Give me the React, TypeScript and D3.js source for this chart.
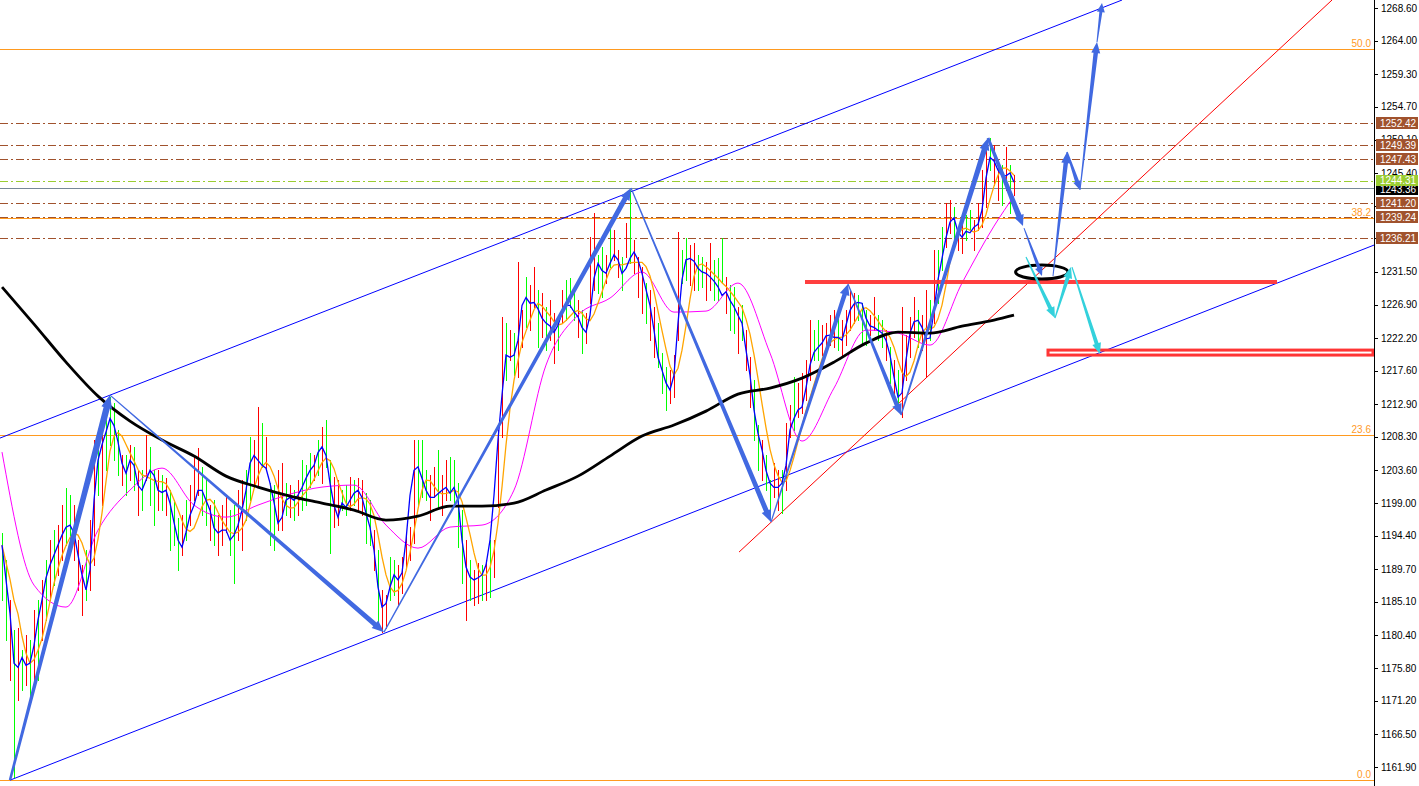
import React from "react";
import * as d3 from "d3";

const W = 1419;
const H = 786;
const AXIS_X = 1374;

// ---- bar data (one bar per slot) ----
const highs = [
  1194.8, 1191.0, 1185.4, 1181.1, 1181.4, 1178.3, 1180.4, 1179.7, 1184.0, 1185.4,
  1188.2, 1191.0, 1193.8, 1195.2, 1195.9, 1198.7, 1201.1, 1200.1, 1198.7, 1193.8,
  1190.3, 1192.4, 1196.6, 1207.9, 1207.9, 1209.3, 1210.7, 1213.9, 1213.1, 1209.3,
  1205.7, 1205.7, 1207.2, 1206.9, 1203.6, 1203.6, 1208.6, 1206.9, 1203.6, 1203.6,
  1202.9, 1202.5, 1200.8, 1199.4, 1196.9, 1197.3, 1199.4, 1201.5, 1205.7, 1206.7,
  1204.1, 1202.2, 1198.7, 1199.4, 1197.3, 1198.7, 1200.1, 1198.0, 1198.7, 1200.8,
  1202.2, 1203.6, 1208.3, 1207.9, 1212.5, 1210.2, 1208.3, 1201.8, 1201.5, 1203.6,
  1204.6, 1201.8, 1201.5, 1200.8, 1202.2, 1205.0, 1204.3, 1206.0, 1205.7, 1207.9,
  1209.7, 1210.7, 1205.0, 1202.7, 1202.2, 1200.8, 1201.5, 1202.7, 1202.2, 1202.5,
  1202.2, 1200.4, 1199.4, 1195.2, 1192.4, 1186.8, 1186.1, 1191.4, 1191.0, 1190.3,
  1191.4, 1194.5, 1195.6, 1207.9, 1207.9, 1207.9, 1203.6, 1202.9, 1204.1, 1206.5,
  1202.9, 1205.0, 1205.5, 1205.0, 1201.8, 1198.0, 1193.8, 1191.0, 1189.6, 1190.6,
  1190.3, 1191.0, 1193.8, 1193.8, 1209.3, 1225.1, 1224.3, 1223.3, 1222.9, 1232.9,
  1226.1, 1230.8, 1229.6, 1232.2, 1228.9, 1228.5, 1226.6, 1227.5, 1225.7, 1224.7,
  1228.9, 1230.4, 1230.6, 1228.9, 1227.5, 1226.1, 1225.7, 1236.4, 1239.8, 1233.9,
  1235.0, 1233.9, 1237.8, 1237.4, 1234.6, 1233.6, 1238.4, 1243.0, 1236.0, 1233.6,
  1232.2, 1229.9, 1228.9, 1226.6, 1224.3, 1220.1, 1218.1, 1217.7, 1219.8, 1237.1,
  1234.6, 1236.3, 1235.3, 1235.6, 1233.9, 1233.6, 1232.9, 1235.6, 1233.2, 1233.4,
  1236.3, 1230.8, 1229.6, 1229.4, 1226.6, 1226.8, 1223.3, 1219.5, 1216.3, 1210.0,
  1207.9, 1205.7, 1202.2, 1204.6, 1203.6, 1203.6, 1210.2, 1212.8, 1216.7, 1215.9,
  1217.3, 1219.1, 1224.7, 1223.3, 1224.7, 1224.0, 1224.3, 1225.4, 1226.1, 1225.4,
  1224.7, 1226.1, 1228.9, 1228.5, 1228.2, 1227.1, 1226.1, 1225.4, 1228.0, 1225.4,
  1224.7, 1223.3, 1220.9, 1219.1, 1217.7, 1226.6, 1222.6, 1225.1, 1228.0, 1226.1,
  1225.4, 1228.9, 1227.5, 1234.6, 1234.6, 1237.8, 1241.2, 1241.6, 1240.6, 1237.4,
  1238.4, 1239.5, 1240.2, 1238.8, 1241.2, 1245.8, 1248.6, 1250.3, 1249.3, 1247.2,
  1246.5, 1249.1, 1246.5, 1245.1,
];

const lows = [
  1185.4, 1179.7, 1174.1, 1160.5, 1171.3, 1172.7, 1173.4, 1171.3, 1172.7, 1174.1,
  1179.7, 1182.5, 1185.4, 1187.5, 1188.9, 1191.0, 1193.1, 1193.8, 1191.0, 1186.8,
  1183.2, 1185.4, 1186.8, 1190.3, 1200.1, 1198.7, 1203.6, 1207.2, 1205.0, 1202.9,
  1201.5, 1200.1, 1202.2, 1200.8, 1197.3, 1198.0, 1202.2, 1198.7, 1195.9, 1198.0,
  1198.0, 1197.3, 1192.4, 1193.1, 1189.6, 1191.7, 1193.8, 1195.9, 1199.4, 1200.1,
  1197.3, 1195.9, 1193.8, 1193.1, 1191.7, 1193.1, 1194.9, 1191.7, 1187.8, 1193.8,
  1192.4, 1196.6, 1199.4, 1201.5, 1201.3, 1204.1, 1203.6, 1193.1, 1192.4, 1195.2,
  1195.2, 1197.3, 1197.0, 1196.6, 1197.3, 1198.0, 1198.7, 1201.3, 1202.2, 1202.9,
  1201.8, 1204.1, 1192.0, 1195.6, 1195.9, 1198.0, 1197.3, 1198.0, 1198.7, 1197.7,
  1197.3, 1193.4, 1193.1, 1189.6, 1182.1, 1180.9, 1181.4, 1185.4, 1186.1, 1184.7,
  1186.3, 1190.0, 1191.0, 1193.4, 1198.4, 1199.8, 1199.4, 1196.6, 1199.8, 1198.4,
  1197.3, 1199.4, 1199.4, 1198.7, 1192.8, 1187.8, 1182.5, 1185.4, 1184.7, 1184.9,
  1185.4, 1185.4, 1185.8, 1188.6, 1198.4, 1208.3, 1216.3, 1219.1, 1217.0, 1216.7,
  1220.9, 1223.7, 1223.3, 1226.6, 1220.9, 1222.3, 1220.5, 1221.9, 1218.7, 1220.5,
  1224.3, 1224.7, 1226.6, 1224.7, 1222.3, 1220.1, 1221.5, 1227.1, 1228.9, 1228.5,
  1228.0, 1229.9, 1232.2, 1233.2, 1230.8, 1228.9, 1233.6, 1232.7, 1231.3, 1228.0,
  1225.7, 1224.3, 1221.9, 1219.5, 1218.1, 1214.5, 1212.1, 1213.1, 1213.9, 1221.9,
  1229.9, 1230.4, 1229.6, 1228.9, 1228.9, 1229.4, 1227.5, 1228.9, 1227.5, 1227.5,
  1229.9, 1225.7, 1223.3, 1222.9, 1220.1, 1221.9, 1217.7, 1212.5, 1207.9, 1203.6,
  1202.2, 1200.8, 1196.6, 1199.8, 1198.0, 1197.6, 1200.8, 1208.3, 1209.3, 1211.1,
  1211.7, 1213.5, 1216.3, 1219.1, 1219.1, 1219.8, 1220.9, 1221.2, 1220.9, 1220.5,
  1219.5, 1221.2, 1223.3, 1224.3, 1224.7, 1221.5, 1221.2, 1222.6, 1223.3, 1221.9,
  1220.9, 1219.1, 1215.9, 1213.5, 1212.1, 1211.1, 1216.3, 1219.5, 1222.3, 1220.9,
  1220.5, 1216.7, 1221.9, 1224.3, 1227.1, 1231.8, 1235.0, 1237.0, 1235.3, 1234.6,
  1234.2, 1236.0, 1237.4, 1234.6, 1237.4, 1237.8, 1240.6, 1245.8, 1243.7, 1241.6,
  1240.9, 1243.0, 1239.8, 1242.3,
];

// g = up bar, r = down bar
const barColors =
  "ggrgrgrgrg" + "rgrgrrggrr" + "rgrrgrgggg" + "rgrgrgrggr" + "grgggrgrrr" +
  "ggrgrrrggr" + "rggrrgrggr" + "rgrgrgggrg" + "rggrrggrgr" + "rggrgrrggr" +
  "rrrrgggrrg" + "rrggggrgrr" + "grgrrrgrgr" + "rgrrgrgrrg" + "rgggrgrrrg" +
  "grgrrgrgrr" + "rgrrgggrrr" + "ggrrggrrgg" + "grggrgrrgg" + "rggrrgrrgr" +
  "rrrggrrrrg" + "rrrrgggrrg" + "grgrgrrrrg" + "rrgrggrrgr" + "rggrrrrgrr" +
  "grgr";

// fast moving average (blue)
const fastMA = [
  1193.1, 1188.2, 1183.5, 1176.5, 1175.9, 1177.3, 1176.2, 1176.5, 1179.0, 1182.6,
  1185.4, 1188.5, 1190.3, 1191.7, 1193.1, 1194.5, 1195.6, 1195.9, 1194.8, 1191.7,
  1188.9, 1186.8, 1189.6, 1199.4, 1205.0, 1207.2, 1209.0, 1210.9, 1209.9, 1207.6,
  1204.6, 1203.2, 1205.0, 1204.3, 1201.5, 1200.8, 1202.2, 1203.6, 1202.9, 1200.8,
  1200.5, 1200.8, 1199.0, 1196.3, 1193.8, 1192.8, 1194.9, 1197.3, 1198.7, 1200.8,
  1200.8, 1199.4, 1198.0, 1195.5, 1194.8, 1195.2, 1195.2, 1193.8, 1194.5, 1195.9,
  1198.0, 1200.8, 1204.6, 1205.7, 1205.0, 1204.3, 1203.9, 1201.8, 1199.1, 1196.2,
  1197.0, 1199.4, 1199.8, 1199.4, 1200.1, 1201.2, 1202.5, 1203.6, 1204.3, 1206.1,
  1206.9, 1205.7, 1201.8, 1198.7, 1197.0, 1199.0, 1198.4, 1199.4, 1200.4, 1200.8,
  1199.8, 1197.6, 1195.6, 1192.4, 1187.2, 1184.4, 1184.9, 1187.2, 1188.9, 1188.2,
  1189.2, 1193.8, 1200.1, 1203.6, 1204.1, 1202.5, 1200.8, 1199.8, 1199.8, 1200.3,
  1200.8, 1201.2, 1200.4, 1201.2, 1199.4, 1193.8, 1190.0, 1188.6, 1188.2, 1188.5,
  1188.9, 1190.3, 1193.8, 1200.1, 1207.9, 1214.2, 1219.8, 1219.5, 1219.8, 1221.9,
  1226.8, 1227.9, 1227.1, 1227.2, 1226.3, 1225.0, 1224.3, 1223.9, 1223.0, 1224.0,
  1225.7, 1226.8, 1226.8, 1225.9, 1225.2, 1223.7, 1223.0, 1225.4, 1230.6, 1232.7,
  1231.7, 1231.3, 1232.7, 1233.9, 1233.2, 1231.3, 1232.0, 1233.4, 1234.3, 1233.2,
  1231.3, 1229.0, 1226.8, 1223.3, 1219.5, 1217.7, 1215.9, 1214.9, 1217.0, 1224.3,
  1230.4, 1233.2, 1233.4, 1233.0, 1232.0, 1231.5, 1231.3, 1230.8, 1230.2, 1229.4,
  1228.2, 1228.7, 1227.5, 1226.6, 1225.4, 1224.3, 1220.5, 1217.0, 1212.1, 1208.8,
  1206.5, 1203.6, 1201.8, 1201.2, 1201.2, 1201.8, 1204.3, 1209.3, 1210.9, 1212.1,
  1212.5, 1215.2, 1218.4, 1220.2, 1220.9, 1221.5, 1222.5, 1222.6, 1222.3, 1222.3,
  1221.9, 1224.0, 1226.1, 1227.0, 1227.2, 1227.1, 1225.0, 1223.9, 1223.7, 1223.3,
  1222.9, 1221.9, 1219.8, 1216.7, 1213.9, 1214.5, 1219.1, 1222.9, 1224.5, 1224.7,
  1223.7, 1222.1, 1222.2, 1226.1, 1230.4, 1233.4, 1236.3, 1238.5, 1239.1, 1237.1,
  1236.4, 1237.2, 1237.0, 1237.8, 1238.2, 1240.2, 1244.7, 1247.6, 1247.1, 1245.8,
  1245.1, 1245.0, 1245.4, 1244.1,
];

// slow MAs sampled every 8 bars (last sample = last bar)
const maSampleIdx = [
  0, 8, 16, 24, 32, 40, 48, 56, 64, 72, 80, 88, 96, 104, 112, 120, 128, 136, 144, 152,
  160, 168, 176, 184, 192, 200, 208, 216, 224, 232, 240, 248, 253,
];
const slowMA = [
  1229.37, 1224.17, 1218.82, 1214.04, 1210.53, 1207.86, 1205.61, 1202.79, 1201.25, 1199.98,
  1198.99, 1198.01, 1196.61, 1197.17, 1198.58, 1198.58, 1198.99, 1200.83, 1202.79, 1205.61,
  1208.42, 1209.97, 1211.93, 1214.32, 1215.17, 1216.57, 1218.82, 1221.49, 1223.04, 1222.9,
  1223.88, 1224.73, 1225.43,
];
const midMA = [
  1206.17, 1187.47, 1184.38, 1195.2, 1200.83, 1203.92, 1198.72, 1197.03, 1198.72, 1200.26,
  1201.25, 1201.53, 1195.91, 1192.67, 1195.63, 1195.91, 1200.83, 1218.4, 1225.43, 1227.82,
  1231.48, 1225.85, 1225.99, 1229.93, 1220.09, 1207.72, 1215.17, 1223.32, 1222.9, 1221.21,
  1229.93, 1237.94, 1242.16,
];

// axis ticks
const tickPrices = [
  1268.6, 1264.0, 1259.3, 1254.7, 1250.1, 1245.4, 1240.8, 1236.2, 1231.5, 1226.9, 1222.2,
  1217.6, 1212.9, 1208.3, 1203.6, 1199.0, 1194.4, 1189.7, 1185.1, 1180.4, 1175.8, 1171.2,
  1166.5, 1161.9,
];

// fibonacci levels
const fibPrices = [1160.05, 1208.56, 1239.05, 1262.79];
const fibLabels = ["0.0", "23.6", "38.2", "50.0"];

// horizontal price levels
const levelPrices = [1252.42, 1249.39, 1247.43, 1241.2, 1239.24, 1236.21];
const askPrice = 1244.31;
const bidPrice = 1243.36;

// trend lines [i1, p1, i2, p2]
const channelUpper = [-0.5, 1208.14, 280, 1269.72];
const channelLower = [2, 1160.05, 343, 1235.27];
const redTrend = [184.25, 1192.11, 332.5, 1269.72];
const redLevel = [200.75, 318.75, 1230.07];
const redBox = [261.5, 1220.51, 342.75, 1219.81];
const ellipseBox = [253.4, 1232.46, 266.5, 1230.5];

// arrows [i1, p1, i2, p2]
const blueArrows = [
  [2, 1160.05, 27, 1214.18],
  [27, 1214.18, 95.5, 1180.86],
  [95.5, 1180.86, 157.25, 1243.29],
  [157.25, 1243.29, 192.25, 1196.33],
  [192.25, 1196.33, 211.5, 1229.79],
  [211.5, 1229.79, 224.75, 1211.37],
  [224.75, 1211.37, 246.5, 1250.32],
  [246.5, 1250.32, 255.25, 1237.94],
  [255.5, 1237.66, 260, 1230.92],
  [262.75, 1230.92, 266.25, 1248.35],
  [266.25, 1248.35, 269.5, 1243.01],
  [269.5, 1243.01, 273.75, 1263.81],
  [273.75, 1263.81, 275, 1269.3],
];
const blueArrowStyle = [
  [2.5, 6.5, 13, 11],
  [1.2, 5, 12, 10],
  [1.2, 5, 12, 10],
  [1.2, 5, 12, 10],
  [1.2, 4.5, 11, 10],
  [1.2, 4.5, 11, 10],
  [1.5, 5.5, 12, 10],
  [3, 5.5, 11, 10],
  [1, 3.5, 9, 8],
  [1, 4.5, 11, 9],
  [1.5, 4, 9, 8],
  [1, 4.5, 11, 9],
  [1, 3, 9, 8],
];
const cyanArrows = [
  [256, 1233.58, 263.25, 1225.01],
  [263.25, 1225.01, 267.25, 1232.18],
  [267.5, 1232.18, 274.5, 1219.95],
];

function arrowD(x1: number, y1: number, x2: number, y2: number, w0: number, w1: number, hl: number, hw: number) {
  const dx = x2 - x1;
  const dy = y2 - y1;
  const L = Math.hypot(dx, dy);
  const ux = dx / L;
  const uy = dy / L;
  const nx = -uy;
  const ny = ux;
  const bx = x2 - ux * hl;
  const by = y2 - uy * hl;
  const pts = [
    [x1 + (nx * w0) / 2, y1 + (ny * w0) / 2],
    [bx + (nx * w1) / 2, by + (ny * w1) / 2],
    [bx + (nx * hw) / 2, by + (ny * hw) / 2],
    [x2, y2],
    [bx - (nx * hw) / 2, by - (ny * hw) / 2],
    [bx - (nx * w1) / 2, by - (ny * w1) / 2],
    [x1 - (nx * w0) / 2, y1 - (ny * w0) / 2],
  ];
  return "M" + pts.map((p) => p[0].toFixed(2) + "," + p[1].toFixed(2)).join("L") + "Z";
}

const FONT = "'Liberation Sans', Arial, sans-serif";

export default function App() {
  React.useEffect(() => {
    document.body.style.margin = "0";
  }, []);

  const x = d3.scaleLinear().domain([0, 343]).range([2, AXIS_X]);
  const y = d3.scaleLinear().domain([1161.9, 1268.6]).range([767, 8]);

  const orangeMA = fastMA.map((_, i) => d3.mean(fastMA.slice(Math.max(0, i - 4), i + 1)) as number);

  const seriesLine = d3
    .line<number>()
    .x((_, i) => x(i))
    .y((v) => y(v));
  const sampledLine = d3
    .line<number>()
    .x((_, i) => x(maSampleIdx[i]))
    .y((v) => y(v))
    .curve(d3.curveMonotoneX);

  const seg = (a: number[]) => ({ x1: x(a[0]), y1: y(a[1]), x2: x(a[2]), y2: y(a[3]) });

  const dashDot = "8,3,2,3";
  const boxX = AXIS_X + 2;
  const boxW = 42;

  const ex1 = x(ellipseBox[0]);
  const ex2 = x(ellipseBox[2]);
  const ey1 = y(ellipseBox[1]);
  const ey2 = y(ellipseBox[3]);

  const bidY = Math.round(y(bidPrice));
  const askY = Math.round(y(askPrice));

  return (
    <svg
      width={W}
      height={H}
      style={{ position: "absolute", left: 0, top: 0, display: "block", background: "#ffffff" }}
    >
      <defs>
        <clipPath id="plot">
          <rect x={0} y={0} width={AXIS_X} height={H} />
        </clipPath>
      </defs>
      <rect x={0} y={0} width={W} height={H} fill="#ffffff" />

      <g clipPath="url(#plot)">
        {/* fibonacci levels */}
        {fibPrices.map((p, i) => (
          <g key={"fib" + i}>
            <line x1={0} x2={AXIS_X} y1={Math.round(y(p)) + 0.5} y2={Math.round(y(p)) + 0.5} stroke="#ff9a1f" strokeWidth={1} />
            <text x={AXIS_X - 3} y={Math.round(y(p)) - 2} textAnchor="end" fontFamily={FONT} fontSize={10} fill="#ff9a1f">
              {fibLabels[i]}
            </text>
          </g>
        ))}

        {/* price levels */}
        {levelPrices.map((p, i) => (
          <line key={"lv" + i} x1={0} x2={AXIS_X} y1={Math.round(y(p)) + 0.5} y2={Math.round(y(p)) + 0.5} stroke="#a0522d" strokeWidth={1} strokeDasharray={dashDot} />
        ))}
        <line x1={0} x2={AXIS_X} y1={askY + 0.5} y2={askY + 0.5} stroke="#9acd32" strokeWidth={1} strokeDasharray={dashDot} />
        <line x1={0} x2={AXIS_X} y1={bidY + 0.5} y2={bidY + 0.5} stroke="#778899" strokeWidth={1} />

        {/* channel & trend lines */}
        <line {...seg(channelUpper)} stroke="#0000ff" strokeWidth={1} />
        <line {...seg(channelLower)} stroke="#0000ff" strokeWidth={1} />
        <line {...seg(redTrend)} stroke="#ff0000" strokeWidth={1} />

        {/* bars */}
        {highs.map((h, i) => (
          <line
            key={"b" + i}
            x1={x(i) + 0.5}
            x2={x(i) + 0.5}
            y1={Math.round(y(h))}
            y2={Math.round(y(lows[i])) + 1}
            stroke={barColors[i] === "g" ? "#00ff00" : "#ff0000"}
            strokeWidth={1}
            shapeRendering="crispEdges"
          />
        ))}

        {/* moving averages */}
        <path d={sampledLine(midMA) || ""} fill="none" stroke="#ff00ff" strokeWidth={1} />
        <path d={seriesLine(orangeMA) || ""} fill="none" stroke="#ffa500" strokeWidth={1.3} />
        <path d={seriesLine(fastMA) || ""} fill="none" stroke="#0000ff" strokeWidth={1.3} />
        <path d={sampledLine(slowMA) || ""} fill="none" stroke="#000000" strokeWidth={2.8} />

        {/* red horizontal level and box */}
        <line x1={x(redLevel[0])} x2={x(redLevel[1])} y1={y(redLevel[2])} y2={y(redLevel[2])} stroke="#ff3535" strokeWidth={4} opacity={0.95} />
        <rect
          x={x(redBox[0])}
          y={y(redBox[1])}
          width={x(redBox[2]) - x(redBox[0])}
          height={y(redBox[3]) - y(redBox[1])}
          fill="none"
          stroke="#ff3535"
          strokeWidth={3}
        />

        {/* ellipse */}
        <ellipse cx={(ex1 + ex2) / 2} cy={(ey1 + ey2) / 2} rx={(ex2 - ex1) / 2} ry={(ey2 - ey1) / 2} fill="none" stroke="#000000" strokeWidth={3} />

        {/* arrows */}
        {cyanArrows.map((a, i) => (
          <path key={"c" + i} d={arrowD(x(a[0]), y(a[1]), x(a[2]), y(a[3]), 1.2, 4, 11, 9)} fill="#33d1dc" />
        ))}
        {blueArrows.map((a, i) => {
          const s = blueArrowStyle[i];
          return <path key={"a" + i} d={arrowD(x(a[0]), y(a[1]), x(a[2]), y(a[3]), s[0], s[1], s[2], s[3])} fill="#4169e1" />;
        })}
      </g>

      {/* right axis */}
      <line x1={AXIS_X + 0.5} x2={AXIS_X + 0.5} y1={0} y2={H} stroke="#000000" strokeWidth={1} />
      {tickPrices.map((p, i) => (
        <g key={"t" + i}>
          <line x1={AXIS_X} x2={AXIS_X + 4} y1={Math.round(y(p)) + 0.5} y2={Math.round(y(p)) + 0.5} stroke="#000000" />
          <text x={AXIS_X + 7} y={y(p)} dy="0.35em" fontFamily={FONT} fontSize={10} fill="#000000">
            {p.toFixed(2)}
          </text>
        </g>
      ))}

      {/* price labels */}
      {levelPrices.map((p, i) => (
        <g key={"lb" + i}>
          <rect x={boxX} y={Math.round(y(p)) - 6} width={boxW} height={12} fill="#a0522d" />
          <text x={boxX + 4} y={Math.round(y(p))} dy="0.36em" fontFamily={FONT} fontSize={10} fill="#ffffff">
            {p.toFixed(2)}
          </text>
        </g>
      ))}
      <rect x={boxX} y={bidY - 5} width={boxW} height={12} fill="#000000" />
      <text x={boxX + 4} y={bidY + 1} dy="0.36em" fontFamily={FONT} fontSize={10} fill="#ffffff">
        {bidPrice.toFixed(2)}
      </text>
      <rect x={boxX} y={askY - 6} width={boxW} height={11} fill="#9acd32" />
      <text x={boxX + 4} y={askY - 0.5} dy="0.36em" fontFamily={FONT} fontSize={10} fill="#ffffff">
        {askPrice.toFixed(2)}
      </text>
    </svg>
  );
}
